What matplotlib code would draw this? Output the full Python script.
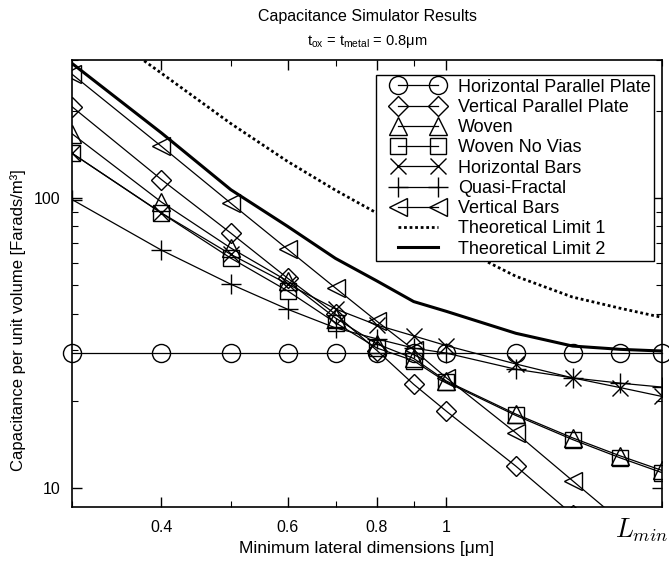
import matplotlib
matplotlib.use("Agg")
import matplotlib.pyplot as plt
from matplotlib.ticker import FixedLocator, NullFormatter, FixedFormatter
from matplotlib.lines import Line2D
from matplotlib.legend_handler import HandlerLine2D

plt.rcParams['font.family'] = ['Liberation Sans', 'DejaVu Sans']

# ---- data ----
lmin = [0.3, 0.4, 0.5, 0.6, 0.7, 0.8, 0.9, 1.0, 1.25, 1.5, 1.75, 2.0]
horiz_pp = [29.2] * 12
vert_pp = [207, 116, 75.8, 53.0, 39.8, 29.8, 22.8, 18.4, 11.9, 8.1, 6.5, 5.3]
woven = [167, 97, 67.3, 51.8, 38.6, 31.4, 28.0, 23.4, 18.0, 14.9, 12.9, 11.5]
woven_novias = [143, 88.8, 62.1, 47.9, 37.2, 30.4, 27.5, 23.2, 17.8, 14.7, 12.7, 11.3]
horiz_bars = [143, 89, 64, 50.6, 41.5, 36.5, 33.5, 31.0, 26.8, 24.0, 22.2, 20.7]
quasi_fractal = [99, 66.2, 50.5, 41.4, 35.7, 32.7, 30.4, 29.2, 25.7, 24.0, 23.0, 22.3]
vert_bars = [268, 151, 96.1, 66.7, 49.0, 37.6, 30.0, 24.0, 15.5, 10.6, 7.7, 5.8]
limit1 = [450, 270, 181, 134, 106.6, 88.8, 78.2, 71.1, 53.8, 45.6, 41.7, 38.8]
limit2 = [292, 168, 107, 80, 62, 51.8, 44, 40.7, 34.2, 30.9, 30.1, 29.7]

series = [
    ("Horizontal Parallel Plate", horiz_pp, 'o'),
    ("Vertical Parallel Plate", vert_pp, 'D'),
    ("Woven", woven, '^'),
    ("Woven No Vias", woven_novias, 's'),
    ("Horizontal Bars", horiz_bars, 'x'),
    ("Quasi-Fractal", quasi_fractal, '+'),
    ("Vertical Bars", vert_bars, '<'),
]
msizes = {'o': 13, 'D': 10, '^': 13, 's': 12, 'x': 12, '+': 14, '<': 13}

x_major = [0.4, 0.6, 0.8, 1.0]
x_major_labels = ['0.4', '0.6', '0.8', '1']
x_minor = [0.3, 0.5, 0.7, 0.9, 2.0]
y_major = [10, 100]
y_major_labels = ['10', '100']
y_minor = [20, 30, 40, 50, 60, 70, 80, 90, 200, 300]

W, H = 669, 561
fig = plt.figure(figsize=(W / 100, H / 100), dpi=100)
ax = fig.add_axes([72 / W, 1 - 507 / H, (662 - 72) / W, (507 - 60) / H])

for name, vals, m in series:
    ax.plot(lmin, vals, color='black', linewidth=0.9, marker=m,
            markersize=msizes[m], markerfacecolor='none', markeredgecolor='black',
            markeredgewidth=1.0, label=name, clip_on=False if m == 'o' else True)
ax.plot(lmin, limit1, color='black', linestyle=(0, (1, 1)), linewidth=2.0,
        label="Theoretical Limit 1")
ax.plot(lmin, limit2, color='black', linestyle='-', linewidth=2.2,
        label="Theoretical Limit 2")

ax.set_xscale('log')
ax.set_yscale('log')
ax.set_xlim(0.3, 2.0)
ax.set_ylim(8.6, 300)

ax.xaxis.set_major_locator(FixedLocator(x_major))
ax.xaxis.set_major_formatter(FixedFormatter(x_major_labels))
ax.xaxis.set_minor_locator(FixedLocator(x_minor))
ax.xaxis.set_minor_formatter(NullFormatter())
ax.yaxis.set_major_locator(FixedLocator(y_major))
ax.yaxis.set_major_formatter(FixedFormatter(y_major_labels))
ax.yaxis.set_minor_locator(FixedLocator(y_minor))
ax.yaxis.set_minor_formatter(NullFormatter())
ax.tick_params(which='both', direction='in', top=True, right=True, labelsize=11.5)
ax.tick_params(which='major', length=7, width=1.0)
ax.tick_params(which='minor', length=4, width=0.8)
ax.tick_params(axis='x', which='major', pad=9.5)
ax.tick_params(axis='y', which='major', pad=8.5)
for s in ax.spines.values():
    s.set_linewidth(1.2)

ax.set_xlabel("Minimum lateral dimensions [μm]", fontsize=12.5, labelpad=4)
ax.set_ylabel("Capacitance per unit volume [Farads/m³]", fontsize=12, labelpad=4)
ax.yaxis.set_label_coords(-(72 - 26) / 590, (507 - 320) / 447)

fig.text((72 + 662) / 2 / W, 1 - 17 / H, "Capacitance Simulator Results",
         ha='center', va='center', fontsize=11.5)
fig.text((72 + 662) / 2 / W, 1 - 42 / H,
         r"t$_{\mathregular{ox}}$ = t$_{\mathregular{metal}}$ = 0.8μm",
         ha='center', va='center', fontsize=10.5)
fig.text(642 / W, 1 - 530 / H, r"$L_{min}$", ha='center', va='center',
         fontsize=19, math_fontfamily='cm')

leg = ax.legend(loc='upper right', bbox_to_anchor=((654 - 72) / 590, (507 - 75) / 447),
                borderaxespad=0, handlelength=4.2, fontsize=13,
                fancybox=False, edgecolor='black', framealpha=1,
                labelspacing=0.18, handletextpad=0.1, borderpad=0.2,
                handler_map={Line2D: HandlerLine2D(marker_pad=1.0, numpoints=2)})
leg.get_frame().set_linewidth(1.0)

fig.savefig("out.png", dpi=100)
